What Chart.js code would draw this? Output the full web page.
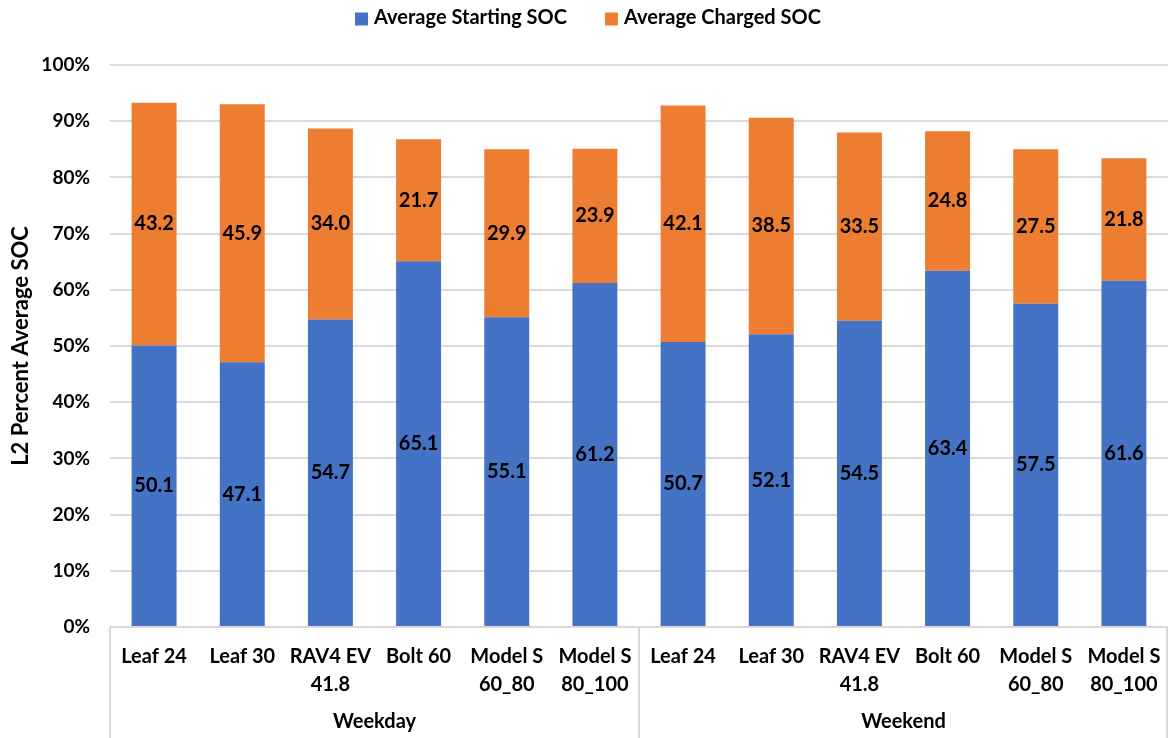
<!DOCTYPE html>
<html>
<head>
<meta charset="utf-8">
<script src="https://cdn.jsdelivr.net/npm/chart.js@4"></script>
<style>
  html, body { margin: 0; padding: 0; background: #fff; }
  #wrap { width: 1169px; height: 738px; }
</style>
</head>
<body>
<div id="wrap"><canvas id="chart" width="1169" height="738"></canvas></div>
<script>
const categories = [
  'Leaf 24', 'Leaf 30', ['RAV4 EV', '41.8'], 'Bolt 60', ['Model S', '60_80'], ['Model S', '80_100'],
  'Leaf 24', 'Leaf 30', ['RAV4 EV', '41.8'], 'Bolt 60', ['Model S', '60_80'], ['Model S', '80_100']
];
const groups = ['Weekday', 'Weekend'];
const startingSOC = [50.1, 47.1, 54.7, 65.1, 55.1, 61.2, 50.7, 52.1, 54.5, 63.4, 57.5, 61.6];
const chargedSOC = [43.2, 45.9, 34.0, 21.7, 29.9, 23.9, 42.1, 38.5, 33.5, 24.8, 27.5, 21.8];
const yTicks = [0, 10, 20, 30, 40, 50, 60, 70, 80, 90, 100];

const FONT = 'Lato, "Open Sans", sans-serif';
const LINE = '#d9d9d9';

// value labels centred in each stacked segment
const segmentLabels = {
  id: 'segmentLabels',
  afterDatasetsDraw(chart) {
    const ctx = chart.ctx;
    ctx.save();
    ctx.font = 'bold 20px ' + FONT;
    ctx.fillStyle = '#000';
    ctx.textAlign = 'center';
    ctx.textBaseline = 'middle';
    chart.data.datasets.forEach((ds, i) => {
      chart.getDatasetMeta(i).data.forEach((bar, j) => {
        ctx.fillText(ds.data[j].toFixed(1), bar.x, (bar.y + bar.base) / 2);
      });
    });
    ctx.restore();
  }
};

// legend row at the top, Excel style spacing
const topLegend = {
  id: 'topLegend',
  afterDraw(chart) {
    const ctx = chart.ctx;
    const items = chart.data.datasets;
    const box = 13, gap = 6, spacing = 38;
    ctx.save();
    ctx.font = 'bold 20px ' + FONT;
    ctx.textBaseline = 'middle';
    ctx.textAlign = 'left';
    const widths = items.map(d => ctx.measureText(d.label).width);
    const total = widths.reduce((s, w) => s + box + gap + w, 0) + spacing * (items.length - 1);
    let x = 588 - total / 2;
    const y = 19;
    items.forEach((d, i) => {
      ctx.fillStyle = d.backgroundColor;
      ctx.fillRect(x, y - box / 2, box, box);
      x += box + gap;
      ctx.fillStyle = '#000';
      ctx.fillText(d.label, x, y - 1);
      x += widths[i] + spacing;
    });
    ctx.restore();
  }
};

// group boxes below the category axis
const groupAxis = {
  id: 'groupAxis',
  afterDraw(chart) {
    const ctx = chart.ctx;
    const x = chart.scales.x;
    const top = chart.chartArea.bottom;
    const bottom = chart.height;
    const per = categories.length / groups.length;
    ctx.save();
    ctx.strokeStyle = LINE;
    ctx.lineWidth = 2;
    ctx.beginPath();
    ctx.moveTo(x.left, top);
    ctx.lineTo(x.right, top);
    for (let g = 0; g <= groups.length; g++) {
      let px;
      if (g === 0) px = x.left;
      else if (g === groups.length) px = x.right - 1;
      else px = (x.getPixelForValue(g * per - 1) + x.getPixelForValue(g * per)) / 2;
      ctx.moveTo(px, top);
      ctx.lineTo(px, bottom);
    }
    ctx.stroke();
    ctx.font = 'bold 20px ' + FONT;
    ctx.fillStyle = '#000';
    ctx.textAlign = 'center';
    ctx.textBaseline = 'middle';
    groups.forEach((g, i) => {
      const c = (x.getPixelForValue(i * per) + x.getPixelForValue((i + 1) * per - 1)) / 2;
      ctx.fillText(g, c, 722);
    });
    ctx.restore();
  }
};

new Chart(document.getElementById('chart'), {
  type: 'bar',
  data: {
    labels: categories,
    datasets: [
      { label: 'Average Starting SOC', data: startingSOC, backgroundColor: '#4472c4' },
      { label: 'Average Charged SOC', data: chargedSOC, backgroundColor: '#ed7d31' }
    ]
  },
  options: {
    responsive: false,
    animation: false,
    layout: { padding: { left: 0, right: 1, top: 65, bottom: 0 } },
    datasets: { bar: { categoryPercentage: 1, barPercentage: 0.51 } },
    scales: {
      x: {
        stacked: true,
        grid: { display: false },
        border: { display: false },
        ticks: { color: '#000', font: { family: FONT, size: 20, weight: 'bold', lineHeight: 1.4 }, padding: 8, maxRotation: 0, autoSkip: false },
        afterFit(scale) { scale.height = 111; }
      },
      y: {
        stacked: true,
        min: 0,
        max: 100,
        afterBuildTicks(scale) { scale.ticks = yTicks.map(v => ({ value: v })); },
        grid: { color: LINE, lineWidth: 2, drawTicks: false },
        border: { display: false },
        ticks: {
          color: '#000',
          padding: 20,
          font: { family: FONT, size: 19, weight: 'bold' },
          callback: v => v + '%'
        },
        title: {
          display: true,
          text: 'L2 Percent Average SOC',
          color: '#000',
          font: { family: FONT, size: 22, weight: 'bold' },
          padding: { top: 8, bottom: 0 }
        },
        afterFit(scale) { scale.width = 110; }
      }
    },
    plugins: {
      legend: { display: false },
      tooltip: { enabled: false }
    }
  },
  plugins: [segmentLabels, groupAxis, topLegend]
});
</script>
</body>
</html>
